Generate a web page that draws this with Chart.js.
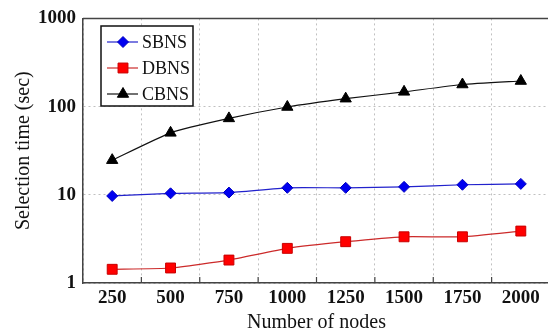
<!DOCTYPE html>
<html>
<head>
<meta charset="utf-8">
<script src="https://cdn.jsdelivr.net/npm/chart.js@4.4.1/dist/chart.umd.min.js"></script>
<style>
    html, body { margin: 0; padding: 0; background: #fff; overflow: hidden; }
    #wrap { width: 558px; height: 332px; }
</style>
</head>
<body>
<div id="wrap"><canvas id="chart" width="558" height="332"></canvas></div>
<script>
// values
const nodes = ['250', '500', '750', '1000', '1250', '1500', '1750', '2000'];
const sbns = [9.7, 10.4, 10.6, 12.0, 12.0, 12.3, 13.0, 13.3];
const dbns = [1.43, 1.48, 1.82, 2.47, 2.94, 3.34, 3.34, 3.88];
const cbns = [24.7, 50.4, 73.5, 99, 123, 147, 178, 195];
const yTicks = [1, 10, 100, 1000];

const serif = "'Liberation Serif', 'Times New Roman', serif";

// small marker shapes for the hand drawn legend
function drawMarker(ctx, style, x, y, r, fill, stroke) {
    ctx.save();
    ctx.fillStyle = fill;
    ctx.strokeStyle = stroke;
    ctx.lineWidth = 1;
    ctx.beginPath();
    if (style === 'rectRot') {
        ctx.moveTo(x, y - r);
        ctx.lineTo(x + r, y);
        ctx.lineTo(x, y + r);
        ctx.lineTo(x - r, y);
    } else if (style === 'rect') {
        const s = r * Math.SQRT1_2;
        ctx.rect(x - s, y - s, 2 * s, 2 * s);
    } else {
        for (let k = 0; k < 3; k++) {
            const a = k * 2 * Math.PI / 3;
            ctx.lineTo(x + Math.sin(a) * r, y - Math.cos(a) * r);
        }
    }
    ctx.closePath();
    ctx.fill();
    ctx.stroke();
    ctx.restore();
}

const framePlugin = {
    id: 'frame',
    beforeDatasetsDraw(chart) {
        const { ctx, chartArea: a } = chart;
        ctx.save();
        ctx.strokeStyle = '#444';
        ctx.lineWidth = 1.5;
        ctx.beginPath();
        ctx.moveTo(a.left, a.top);
        ctx.lineTo(a.right, a.top);
        ctx.lineTo(a.right, a.bottom);
        ctx.stroke();
        // short inward ticks on the x axis, between categories
        const x = chart.scales.x;
        ctx.lineWidth = 1.2;
        ctx.beginPath();
        for (let i = 1; i <= nodes.length; i++) {
            const px = (x.getPixelForValue(i - 1) + x.getPixelForValue(i)) / 2;
            ctx.moveTo(px, a.bottom);
            ctx.lineTo(px, a.bottom - 6);
        }
        ctx.stroke();
        ctx.restore();
    }
};

const legendPlugin = {
    id: 'boxLegend',
    afterDraw(chart) {
        const ctx = chart.ctx;
        const left = 101, top = 26, w = 92, h = 80;
        ctx.save();
        ctx.fillStyle = '#fff';
        ctx.fillRect(left, top, w, h);
        ctx.strokeStyle = '#111';
        ctx.lineWidth = 1.5;
        ctx.strokeRect(left, top, w, h);
        ctx.font = '18px ' + serif;
        ctx.textBaseline = 'middle';
        chart.data.datasets.forEach((ds, i) => {
            const y = 42 + i * 26;
            ctx.strokeStyle = ds.borderColor;
            ctx.lineWidth = 1.2;
            ctx.beginPath();
            ctx.moveTo(107, y);
            ctx.lineTo(138, y);
            ctx.stroke();
            drawMarker(ctx, ds.pointStyle, 123, y, ds.pointRadius, ds.pointBackgroundColor, ds.pointBorderColor);
            ctx.fillStyle = '#111';
            ctx.fillText(ds.label, 142, y + 1);
        });
        ctx.restore();
    }
};

function makeSeries(label, data, line, fill, edge, style, radius) {
    return {
        label: label,
        data: data,
        borderColor: line,
        borderWidth: 1.2,
        backgroundColor: fill,
        pointBackgroundColor: fill,
        pointBorderColor: edge,
        pointBorderWidth: 1,
        pointStyle: style,
        pointRadius: radius,
        pointHoverRadius: radius,
        tension: 0.15,
        fill: false
    };
}

const ctx = document.getElementById('chart').getContext('2d');
new Chart(ctx, {
    type: 'line',
    data: {
        labels: nodes,
        datasets: [
            makeSeries('SBNS', sbns, '#2222cc', '#0000f0', '#0000c0', 'rectRot', 5.5),
            makeSeries('DBNS', dbns, '#cc2a2a', '#ff0000', '#c80000', 'rect', 7),
            makeSeries('CBNS', cbns, '#111111', '#000000', '#000000', 'triangle', 6.5)
        ]
    },
    options: {
        responsive: false,
        animation: false,
        layout: { padding: { top: 18, right: 2, left: 0, bottom: 0 } },
        plugins: {
            legend: { display: false },
            tooltip: { enabled: false }
        },
        scales: {
            x: {
                type: 'category',
                offset: true,
                grid: { offset: true, color: '#c0c0c0', lineWidth: 1, drawTicks: false },
                border: { color: '#444', width: 1.5, dash: [2, 3] },
                ticks: {
                    color: '#111',
                    padding: 4,
                    font: { family: serif, size: 19, weight: 'bold' }
                },
                title: {
                    display: true,
                    text: 'Number of nodes',
                    color: '#111',
                    padding: { top: 0, bottom: -3 },
                    font: { family: serif, size: 20 }
                },
                afterFit: s => { s.height = 49; }
            },
            y: {
                type: 'logarithmic',
                min: 1,
                max: 1000,
                afterBuildTicks: s => { s.ticks = yTicks.map(v => ({ value: v })); },
                grid: { color: '#c0c0c0', lineWidth: 1, drawTicks: false },
                border: { color: '#444', width: 1.5, dash: [2, 3] },
                ticks: {
                    color: '#111',
                    padding: 7,
                    font: { family: serif, size: 19, weight: 'bold' },
                    callback: v => String(v)
                },
                title: {
                    display: true,
                    text: 'Selection time (sec)',
                    color: '#111',
                    padding: { top: 12, bottom: 0 },
                    font: { family: serif, size: 20 }
                },
                afterFit: s => { s.width = 83; }
            }
        }
    },
    plugins: [framePlugin, legendPlugin]
});
</script>
</body>
</html>
